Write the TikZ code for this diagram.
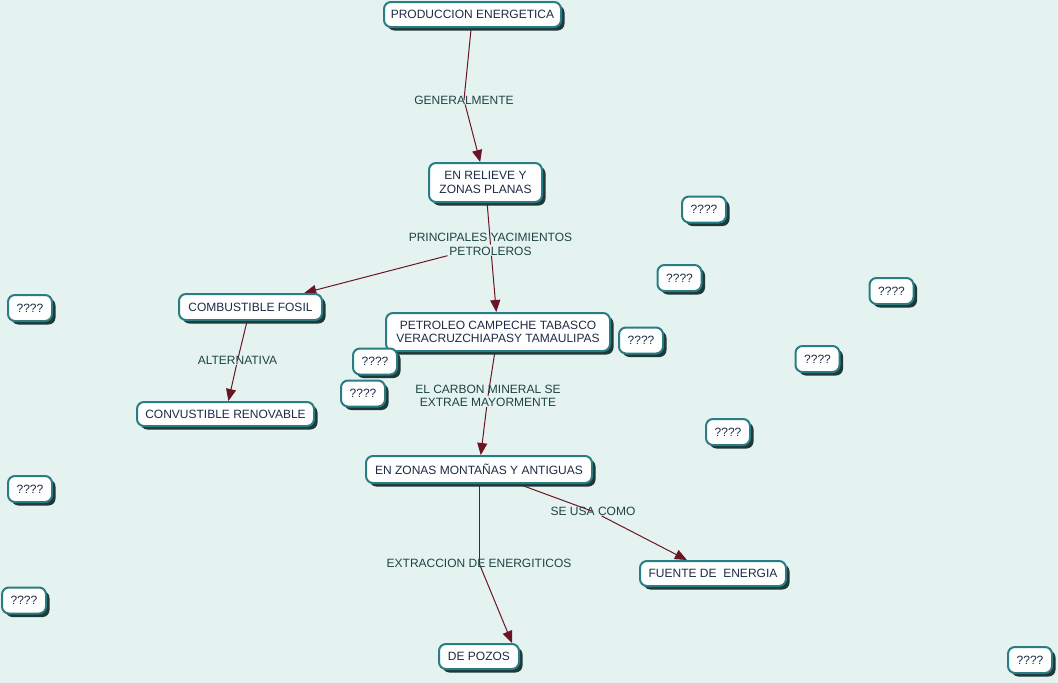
\documentclass[tikz,border=0pt]{standalone}
\usepackage{fontspec}
\setmainfont{Liberation Sans}
\usetikzlibrary{shadows,arrows.meta}
\definecolor{bgc}{HTML}{E4F3F0}
\definecolor{bordc}{HTML}{2A7D82}
\definecolor{shadc}{HTML}{1F3838}
\definecolor{ntext}{HTML}{1D2B45}
\definecolor{ltext}{HTML}{1E4444}
\definecolor{arrc}{HTML}{6B1426}
\pgfdeclarelayer{back}
\pgfdeclarelayer{edges}
\pgfsetlayers{back,edges,main}
\tikzset{
  concept/.style={draw=bordc, line width=2pt, fill=white, rounded corners=7pt,
    text=ntext, font=\fontsize{12}{13.5}\selectfont, align=center, inner sep=0pt,
    drop shadow={shadow xshift=3.5pt, shadow yshift=-3.5pt, fill=shadc, opacity=1}},
  qbox/.style={concept, minimum width=44pt, minimum height=26pt},
  linklabel/.style={text=ltext, font=\fontsize{12}{13.5}\selectfont, align=center, inner sep=0pt},
  link/.style={draw=arrc, line width=1pt},
  arrowlink/.style={link, -{Triangle[length=12pt,width=10pt]}}
}
\begin{document}
\begin{tikzpicture}[x=1pt,y=-1pt]
\begin{pgfonlayer}{back}
\fill[bgc] (0,0) rectangle (1058,683);
\end{pgfonlayer}
\useasboundingbox (0,0) rectangle (1058,683);

% concepts
\node[concept, minimum width=177pt, minimum height=25pt] (prod) at (472.5,14.5) {PRODUCCION ENERGETICA};
\node[concept, minimum width=113pt, minimum height=39pt] (relieve) at (485.5,182.5) {EN RELIEVE Y\\ZONAS PLANAS};
\node[concept, minimum width=143pt, minimum height=26pt] (combust) at (250.5,307) {COMBUSTIBLE FOSIL};
\node[concept, minimum width=177pt, minimum height=24pt] (renov) at (225.5,414) {CONVUSTIBLE RENOVABLE};
\node[concept, minimum width=224pt, minimum height=38pt] (petroleo) at (498,332) {PETROLEO CAMPECHE TABASCO\\VERACRUZCHIAPASY TAMAULIPAS};
\node[concept, minimum width=226pt, minimum height=27pt] (zonas) at (479,469.5) {EN ZONAS MONTAÑAS Y ANTIGUAS};
\node[concept, minimum width=146pt, minimum height=25pt] (fuente) at (713,573.5) {FUENTE DE\ \ ENERGIA};
\node[concept, minimum width=80pt, minimum height=25pt] (pozos) at (479,656.5) {DE POZOS};

% unnamed concepts
\node[qbox] (q1) at (704,209.5) {????};
\node[qbox] (q2) at (679.5,278) {????};
\node[qbox] (q3) at (891.5,291) {????};
\node[qbox] (q4) at (641,340.5) {????};
\node[qbox] (q5) at (817.5,359) {????};
\node[qbox] (q6) at (375,361.5) {????};
\node[qbox] (q7) at (363,393.5) {????};
\node[qbox] (q8) at (728,432) {????};
\node[qbox] (q9) at (30,308) {????};
\node[qbox] (q10) at (30,489) {????};
\node[qbox] (q11) at (24,600.5) {????};
\node[qbox] (q12) at (1030,660) {????};

% linking phrases
\node[linklabel] (l1) at (464,100) {GENERALMENTE};
\node[linklabel] (l2) at (490.5,244.5) {PRINCIPALES YACIMIENTOS\\PETROLEROS};
\node[linklabel] (l3) at (237.5,360.5) {ALTERNATIVA};
\node[linklabel] (l4) at (488,396) {EL CARBON MINERAL SE\\EXTRAE MAYORMENTE};
\node[linklabel] (l5) at (479,563) {EXTRACCION DE ENERGITICOS};
\node[linklabel] (l6) at (593,511.5) {SE USA COMO};

\begin{pgfonlayer}{edges}
\draw[link] (prod) -- (l1.center);
\draw[arrowlink] (l1) -- (relieve);
\draw[link] (relieve) -- (l2.center);
\draw[arrowlink] (l2) -- (combust);
\draw[arrowlink] (l2) -- (petroleo);
\draw[link] (combust) -- (l3.center);
\draw[arrowlink] (l3) -- (renov);
\draw[link] (petroleo) -- (l4.center);
\draw[arrowlink] (l4) -- (zonas);
\draw[link] (zonas) -- (l5.center);
\draw[arrowlink] (l5.center) -- ([xshift=-8pt]pozos.north east);
\draw[link] (zonas) -- (l6.center);
\draw[arrowlink] (l6) -- (fuente);
\end{pgfonlayer}
\end{tikzpicture}
\end{document}
